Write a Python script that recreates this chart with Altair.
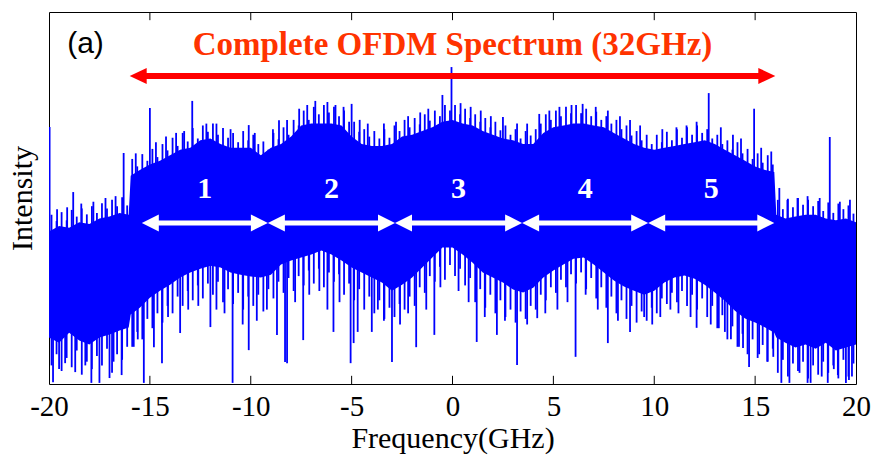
import altair as alt
import pandas as pd
import numpy as np

# ---------------- data ----------------
# frequency grid (GHz) and the solid core of the dense spectrum (arb. units, 0-100)
freq = [-20, -19.5, -19, -18.5, -18, -17.5, -17, -16.5, -16.05, -15.95, -15.5, -15, -14.5, -14,
        -13.5, -13, -12.5, -12, -11.5, -11, -10.5, -10, -9.5, -9, -8.5, -8, -7.5, -7, -6.5, -6,
        -5.5, -5, -4.5, -4, -3.5, -3, -2.5, -2, -1.5, -1, -0.5, 0, 0.5, 1, 1.5, 2, 2.5, 3, 3.5,
        4, 4.5, 5, 5.5, 6, 6.5, 7, 7.5, 8, 8.5, 9, 9.5, 10, 10.5, 11, 11.5, 12, 12.5, 13, 13.5,
        14, 14.5, 15, 15.5, 15.95, 16.05, 16.5, 17, 17.5, 18, 18.5, 19, 19.5, 20]
solid_top = [41.0, 42.5, 42.0, 43.5, 43.0, 44.5, 45.0, 46.0, 45.5, 56.0, 57.5, 59.0, 60.0, 61.5,
             63.0, 63.5, 65.5, 66.0, 64.5, 63.5, 63.5, 63.5, 61.5, 63.5, 64.5, 66.5, 69.5, 70.0, 70.0, 70.0,
             69.5, 66.5, 64.5, 64.0, 64.0, 64.5, 66.5, 67.0, 68.0, 69.0, 70.5, 71.0, 70.0, 69.5, 68.0, 67.0, 66.0, 65.5, 64.5,
             64.5, 67.5, 69.0, 69.5, 70.0, 70.0, 69.5, 69.0, 67.5, 66.0, 64.5, 63.5, 63.0, 63.5, 64.0, 64.5, 65.0, 65.5, 64.5, 63.0,
             61.5, 60.0, 58.5, 57.5, 57.0, 45.5, 44.5, 45.0, 45.5, 45.5, 44.5, 44.0, 44.5, 43.5]
solid_bottom = [12.5, 11.1, 13.8, 11.7, 10.6, 12.5, 13.3, 14.4, 15.2, 18.7, 20.5, 23.2, 25.1, 26.7,
                28.6, 30.0, 31.0, 31.8, 31.3, 30.0, 29.4, 28.9, 28.6, 29.4, 32.1, 33.2, 34.0, 34.8, 35.9, 34.8,
                33.2, 31.3, 30.0, 28.6, 27.3, 25.1, 26.7, 28.6, 31.3, 34.0, 36.7, 36.7, 34.8, 32.6, 30.0, 28.6, 27.3, 25.4, 24.6,
                25.9, 28.6, 30.5, 32.1, 33.7, 34.0, 32.1, 30.0, 27.8, 26.2, 25.1, 24.0, 25.1, 27.3, 28.6, 29.2, 28.3, 26.7, 24.6, 22.4,
                19.7, 17.6, 16.5, 15.2, 13.8, 12.5, 11.1, 9.8, 10.6, 9.5, 11.1, 9.0, 9.8, 10.6]

# ragged edges: peaks / troughs of the trace every 0.25 GHz
fuzz_freq = [-19.875, -19.625, -19.375, -19.125, -18.875, -18.625, -18.375, -18.125,
             -17.875, -17.625, -17.375, -17.125, -16.875, -16.625, -16.375, -16.125,
             -15.875, -15.625, -15.375, -15.125, -14.875, -14.625, -14.375, -14.125,
             -13.875, -13.625, -13.375, -13.125, -12.875, -12.625, -12.375, -12.125,
             -11.875, -11.625, -11.375, -11.125, -10.875, -10.625, -10.375, -10.125,
             -9.875, -9.625, -9.375, -9.125, -8.875, -8.625, -8.375, -8.125,
             -7.875, -7.625, -7.375, -7.125, -6.875, -6.625, -6.375, -6.125,
             -5.875, -5.625, -5.375, -5.125, -4.875, -4.625, -4.375, -4.125,
             -3.875, -3.625, -3.375, -3.125, -2.875, -2.625, -2.375, -2.125,
             -1.875, -1.625, -1.375, -1.125, -0.875, -0.625, -0.375, -0.125,
             0.125, 0.375, 0.625, 0.875, 1.125, 1.375, 1.625, 1.875,
             2.125, 2.375, 2.625, 2.875, 3.125, 3.375, 3.625, 3.875,
             4.125, 4.375, 4.625, 4.875, 5.125, 5.375, 5.625, 5.875,
             6.125, 6.375, 6.625, 6.875, 7.125, 7.375, 7.625, 7.875,
             8.125, 8.375, 8.625, 8.875, 9.125, 9.375, 9.625, 9.875,
             10.125, 10.375, 10.625, 10.875, 11.125, 11.375, 11.625, 11.875,
             12.125, 12.375, 12.625, 12.875, 13.125, 13.375, 13.625, 13.875,
             14.125, 14.375, 14.625, 14.875, 15.125, 15.375, 15.625, 15.875,
             16.125, 16.375, 16.625, 16.875, 17.125, 17.375, 17.625, 17.875,
             18.125, 18.375, 18.625, 18.875, 19.125, 19.375, 19.625, 19.875]
fuzz_peak = [45.5, 43.8, 46.2, 44.0, 46.8, 45.0, 47.2, 45.6,
             47.8, 46.0, 48.6, 47.2, 49.5, 47.8, 50.2, 48.0,
             60.5, 58.5, 61.8, 60.0, 63.2, 61.0, 64.5, 62.8,
             66.2, 64.0, 67.5, 65.2, 68.8, 66.0, 69.5, 67.8,
             70.0, 67.0, 68.8, 66.2, 67.5, 65.0, 68.0, 65.5,
             67.0, 64.5, 65.2, 63.0, 67.5, 65.8, 69.0, 67.0,
             71.0, 69.5, 73.5, 71.0, 74.5, 72.5, 75.0, 73.0,
             74.5, 72.0, 73.5, 70.5, 70.5, 67.8, 68.5, 66.5,
             68.0, 66.0, 68.5, 66.2, 69.5, 68.0, 71.0, 69.0,
             71.5, 69.8, 72.5, 70.8, 73.5, 72.0, 75.0, 73.5,
             75.0, 72.5, 74.0, 71.5, 72.5, 70.5, 71.5, 69.0,
             70.5, 68.2, 69.5, 67.0, 68.5, 66.0, 68.0, 66.8,
             68.5, 70.0, 72.5, 71.0, 73.5, 72.0, 74.5, 72.8,
             75.0, 72.8, 74.0, 72.0, 73.2, 71.0, 72.0, 70.0,
             71.0, 68.5, 69.5, 66.8, 68.0, 65.5, 67.0, 64.5,
             67.0, 65.0, 67.8, 65.5, 68.5, 66.2, 69.0, 67.0,
             69.5, 67.5, 68.5, 66.0, 67.0, 64.5, 65.5, 63.0,
             65.0, 62.0, 63.2, 60.5, 62.0, 59.5, 61.5, 59.0,
             49.5, 47.0, 49.8, 47.5, 50.0, 48.2, 49.5, 47.8,
             49.2, 46.5, 48.8, 46.0, 48.5, 47.0, 48.0, 45.8]
fuzz_trough = [5.0, 8.0, 3.5, 7.0, 4.5, 9.0, 2.5, 6.0,
               4.0, 7.5, 5.0, 9.5, 3.0, 8.0, 6.5, 10.0,
               10.0, 14.0, 12.0, 17.5, 15.0, 19.0, 16.5, 21.0,
               19.0, 23.5, 21.0, 25.0, 22.5, 26.5, 23.0, 27.0,
               24.0, 27.5, 22.0, 25.5, 21.5, 24.5, 20.0, 23.5,
               21.0, 24.0, 19.5, 25.5, 23.0, 27.5, 24.5, 28.5,
               25.0, 29.0, 26.5, 30.5, 27.0, 31.0, 26.0, 30.0,
               27.5, 29.5, 24.0, 27.0, 22.5, 25.5, 20.0, 23.5,
               19.0, 22.5, 17.5, 20.5, 18.0, 21.5, 20.0, 23.5,
               21.0, 26.0, 24.5, 29.0, 27.5, 31.5, 28.0, 32.0,
               29.0, 31.0, 26.5, 28.5, 22.0, 25.5, 20.5, 24.0,
               19.0, 22.5, 18.0, 20.0, 16.5, 19.5, 17.5, 21.0,
               20.0, 24.0, 22.5, 26.0, 24.5, 28.0, 26.0, 29.5,
               27.0, 30.0, 25.5, 28.5, 23.0, 26.0, 20.5, 23.5,
               19.0, 22.5, 17.5, 21.0, 16.5, 19.5, 17.0, 20.5,
               19.0, 23.0, 21.5, 24.5, 22.0, 25.0, 21.0, 24.0,
               20.0, 23.0, 18.0, 21.0, 15.0, 18.5, 12.0, 15.5,
               10.0, 13.5, 8.0, 12.0, 7.0, 10.5, 6.0, 9.5,
               3.0, 6.5, 2.0, 5.5, 3.5, 6.0, 1.5, 5.0,
               2.5, 6.0, 3.0, 5.0, 1.5, 6.5, 2.0, 5.5]

# isolated tall upward spikes (GHz, tip value)
up_freq = [-19.97, -18.8, -16.3, -15.0, -12.9, -10.1, -8.6, -6.8, -6.2, -5.0, -0.5, -0.05, 2.5, 4.3,
           6.45, 12.7, 14.95, 16.2, 18.7,
           -19.6, -19.1, -18.4, -17.8, -17.2, -16.7, -15.7, -14.7, -14.2, -13.7, -13.3, -12.2, -11.7,
           -11.0, -9.8, -8.9, -8.2, -7.6, -7.2, -5.8, -5.4, -4.6, -4.2, -3.4, -2.8, -2.2, -1.6, -1.2,
           0.4, 0.9, 1.4, 1.9, 3.2, 3.7, 4.8, 5.3, 5.9, 7.1, 7.7, 8.3, 8.8, 9.3, 10.4, 11.1, 11.6,
           12.1, 13.3, 13.9, 14.3, 15.3, 15.8, 16.6, 17.1, 17.6, 18.2, 19.2, 19.7]
up_val = [69.1, 51.6, 62.1, 74.2, 76.1, 69.6, 70.9, 76.1, 75.8, 75.3, 77.7, 85.2, 71.8, 72.6,
          75.3, 78.2, 74.0, 52.7, 66.4,
          47.0, 47.5, 48.5, 49.0, 50.0, 50.5, 62.0, 65.0, 66.5, 67.5, 68.0, 70.0, 70.0,
          68.5, 67.5, 68.5, 71.0, 74.0, 75.0, 75.0, 74.5, 71.0, 70.0, 70.0, 70.5, 72.0, 73.0, 74.0,
          75.5, 74.5, 73.5, 72.0, 70.0, 70.0, 73.5, 74.5, 75.0, 74.5, 73.5, 72.0, 71.0, 69.5, 68.5, 69.0, 69.5,
          70.5, 69.0, 67.0, 66.0, 63.5, 62.5, 49.5, 50.0, 50.5, 50.0, 49.0, 49.5]

# isolated deep downward spikes (GHz, tip value)
down_freq = [-19.8, -19.2, -18.7, -17.9, -17.5, -17.0, -16.4, -15.3, -14.8, -14.4, -13.5, -12.0,
             -10.9, -10.1, -8.7, -8.3, -8.2, -7.4, -5.9, -5.05, -4.9, -4.7, -4.0, -3.0, -1.8, -0.9,
             1.2, 2.2, 3.2, 4.2, 6.1, 7.7, 9.5, 12.1, 13.5, 14.4, 14.7, 15.9, 16.3, 16.7, 17.6, 17.75,
             18.6, 19.1, 19.5, 19.65,
             -19.5, -18.2, -16.8, -15.8, -15.6, -14.1, -13.1, -12.6, -11.7, -11.3, -10.4, -9.7, -9.2,
             -7.8, -7.1, -6.6, -6.2, -5.6, -3.7, -3.4, -2.6, -2.2, -1.3, -0.6, 0.3, 0.8, 1.6, 2.6, 3.7,
             4.6, 5.2, 5.7, 6.6, 7.2, 8.2, 8.8, 9.9, 10.3, 10.8, 11.2, 11.8, 12.8, 13.2, 13.8, 14.2,
             15.2, 15.6, 17.2, 18.3, 18.9, 19.8]
down_val = [0.5, 5.6, 3.2, 0.3, 0.3, 1.6, 2.4, 0.3, 9.9, 5.6, 13.7, 15.3,
            0.3, 9.1, 13.2, 5.9, 5.6, 11.8, 14.0, 5.6, 11.0, 14.0, 14.0, 5.9, 9.9, 13.2,
            11.3, 13.2, 5.1, 17.7, 7.3, 11.0, 18.0, 15.1, 14.0, 9.7, 4.6, 7.3, 0.3, 0.3, 0.3, 0.3,
            0.3, 2.4, 0.3, 1.1,
            4.0, 5.0, 6.0, 10.0, 12.0, 18.0, 20.0, 21.0, 20.0, 19.0, 16.0, 17.0, 20.0,
            22.0, 24.0, 25.0, 20.0, 22.0, 20.0, 17.0, 16.0, 19.0, 20.0, 26.0, 25.0, 22.0, 18.0, 17.0, 16.0,
            19.0, 20.0, 22.0, 24.0, 20.0, 17.0, 14.0, 16.0, 18.0, 20.0, 19.0, 18.0, 16.0, 15.0, 12.0, 10.0,
            8.0, 6.0, 3.0, 2.0, 4.0, 2.0]

x_ticks = [-15, -10, -5, 0, 5, 10, 15]
x_labels = [-20, -15, -10, -5, 0, 5, 10, 15, 20]
band_edges = [-15.4, -9.15, -2.85, 3.45, 9.7, 15.95]
band_labels = ["1", "2", "3", "4", "5"]
full_span = [-16, 16]
title_text = "Complete OFDM Spectrum (32GHz)"
panel_label = "(a)"

# ---------------- tables ----------------
spec = pd.DataFrame({"f": freq, "lo": solid_bottom, "hi": solid_top})

peaks = pd.DataFrame({"f": fuzz_freq + up_freq, "v": fuzz_peak + up_val})
peaks["base"] = np.interp(peaks["f"], freq, solid_top) - 2
troughs = pd.DataFrame({"f": fuzz_freq + down_freq, "v": fuzz_trough + down_val})
troughs["base"] = np.interp(troughs["f"], freq, solid_bottom) + 2

ARROW_Y = 43.3
NUM_Y = 52.4
RED_Y = 82.8
TITLE_Y = 88.4

BLUE = "#0000ff"
SERIF = "Liberation Serif"

xscale = alt.Scale(domain=[-20, 20], nice=False, zero=False)
yscale = alt.Scale(domain=[0, 100], nice=False, zero=False)
xaxis = alt.Axis(values=x_labels, labelExpr="'' + datum.value",
                 title="Frequency(GHz)", grid=False, ticks=False, tickSize=0, domain=False,
                 labelFont=SERIF, labelFontSize=29, labelColor="black", labelPadding=8,
                 titleFont=SERIF, titleFontSize=30, titleFontWeight="normal", titleColor="black",
                 titlePadding=2, labelFlush=False)
yaxis = alt.Axis(title="Intensity", labels=False, ticks=False, domain=False, grid=False,
                 titleFont=SERIF, titleFontSize=30, titleFontWeight="normal", titleColor="black",
                 titlePadding=12)


def X(field):
    return alt.X(field, type="quantitative", scale=xscale, axis=xaxis)


def Y(field):
    return alt.Y(field, type="quantitative", scale=yscale, axis=yaxis)


band = alt.Chart(spec).mark_area(color=BLUE, opacity=1, clip=True).encode(
    x=X("f"), y=Y("lo"), y2="hi")

up_rules = alt.Chart(peaks).mark_rule(color=BLUE, strokeWidth=1.8, clip=True).encode(
    x=X("f"), y=Y("base"), y2="v")
down_rules = alt.Chart(troughs).mark_rule(color=BLUE, strokeWidth=1.8, clip=True).encode(
    x=X("f"), y=Y("base"), y2="v")

# inward ticks on bottom and top
tick_df = pd.DataFrame({"f": x_ticks})
tick_df["b0"] = 0.0
tick_df["b1"] = 2.2
tick_df["t0"] = 97.8
tick_df["t1"] = 100.0
ticks_bottom = alt.Chart(tick_df).mark_rule(color="black", strokeWidth=1).encode(
    x=X("f"), y=Y("b0"), y2="b1")
ticks_top = alt.Chart(tick_df).mark_rule(color="black", strokeWidth=1).encode(
    x=X("f"), y=Y("t0"), y2="t1")

# white sub-band arrows
seg = pd.DataFrame({"a": band_edges[:-1], "b": band_edges[1:], "lab": band_labels})
seg["y"] = ARROW_Y
seg["ly"] = NUM_Y
seg["mid"] = (seg["a"] + seg["b"]) / 2
seg["la"] = seg["a"] + 0.6
seg["lb"] = seg["b"] - 0.6
white_lines = alt.Chart(seg).mark_rule(color="white", strokeWidth=5).encode(
    x=X("la"), x2="lb", y=Y("y"))
HEAD_L = "M0,0L2,-1L2,1Z"
HEAD_R = "M0,0L-2,-1L-2,1Z"
white_left = alt.Chart(seg).mark_point(shape=HEAD_L, size=289, filled=True, color="white",
                                       opacity=1, strokeWidth=0).encode(x=X("a"), y=Y("y"))
white_right = alt.Chart(seg).mark_point(shape=HEAD_R, size=289, filled=True, color="white",
                                        opacity=1, strokeWidth=0).encode(x=X("b"), y=Y("y"))
numbers = alt.Chart(seg).mark_text(font=SERIF, fontSize=30, fontWeight="bold", color="white",
                                   baseline="middle", align="center").encode(
    x=X("mid"), y=Y("ly"), text="lab")

# red full-span arrow and title
red = pd.DataFrame({"a": [full_span[0]], "b": [full_span[1]], "y": [RED_Y]})
red["la"] = red["a"] + 0.6
red["lb"] = red["b"] - 0.6
red_line = alt.Chart(red).mark_rule(color="#ff0000", strokeWidth=6).encode(
    x=X("la"), x2="lb", y=Y("y"))
red_left = alt.Chart(red).mark_point(shape="M0,0L2,-0.95L2,0.95Z", size=289, filled=True,
                                     color="#ff0000", opacity=1, strokeWidth=0).encode(
    x=X("a"), y=Y("y"))
red_right = alt.Chart(red).mark_point(shape="M0,0L-2,-0.95L-2,0.95Z", size=289, filled=True,
                                      color="#ff0000", opacity=1, strokeWidth=0).encode(
    x=X("b"), y=Y("y"))

titles = pd.DataFrame({"f": [0.0], "y": [TITLE_Y], "t": [title_text]})
title_mark = alt.Chart(titles).mark_text(font=SERIF, fontSize=33, fontWeight="bold",
                                         color="#ff3300", baseline="alphabetic",
                                         align="center").encode(
    x=X("f"), y=Y("y"), text="t")

panel = pd.DataFrame({"f": [-19.1], "y": [89.0], "t": [panel_label]})
panel_mark = alt.Chart(panel).mark_text(font="Liberation Sans", fontSize=30, color="black",
                                        baseline="alphabetic", align="left").encode(
    x=X("f"), y=Y("y"), text="t")

chart = alt.layer(
    band, down_rules, up_rules, ticks_bottom, ticks_top,
    white_lines, white_left, white_right, numbers,
    red_line, red_left, red_right, title_mark, panel_mark
).properties(
    width=807, height=372,
    autosize=alt.AutoSizeParams(type="none"),
    padding={"left": 49, "top": 12, "right": 17, "bottom": 71},
    background="white"
).configure_view(stroke="black", strokeWidth=1)

chart.save("out.html", embed_options={"renderer": "svg", "actions": False})
